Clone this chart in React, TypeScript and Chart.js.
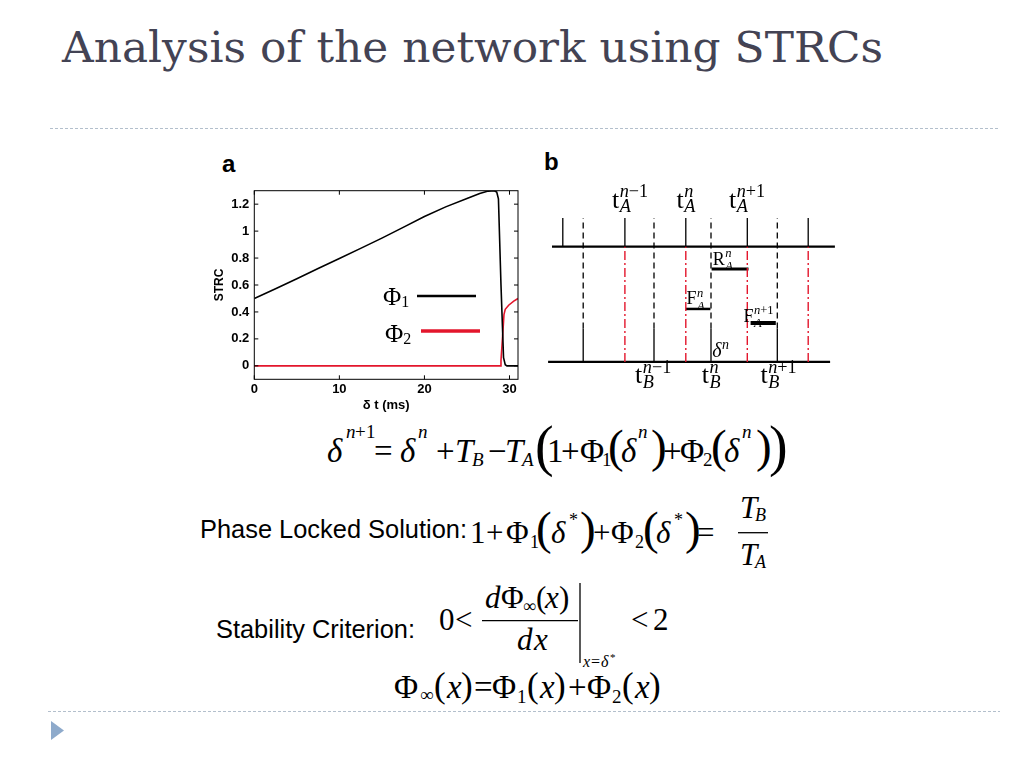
import React, { useEffect, useRef } from "react";
import { Chart, registerables } from "chart.js";

Chart.register(...registerables);

const RED = "#e3162c";
const SANS = '"Liberation Sans", Arial, Helvetica, sans-serif';
const SERIF = '"Liberation Serif", "Times New Roman", "DejaVu Serif", serif';

// ---------- Panel a : STRC curves ----------
const phi1Time = [0, 2.5, 5, 7.5, 10, 12.5, 15, 17.5, 20, 22.5, 25, 26.5, 27.5, 28.2, 28.5, 28.7, 29.0, 29.3, 29.5, 29.7, 30, 31];
const phi1Value = [0.5, 0.572, 0.647, 0.722, 0.797, 0.872, 0.948, 1.028, 1.108, 1.18, 1.242, 1.279, 1.297, 1.3, 1.29, 1.24, 0.6, 0.06, 0.008, 0, 0, 0];
const phi2Time = [0, 28.9, 29.0, 29.2, 29.35, 29.5, 29.9, 30.5, 31];
const phi2Value = [0, 0, 0.04, 0.23, 0.38, 0.42, 0.45, 0.48, 0.5];
const xTicks = [0, 10, 20, 30];
const yTicks = [0, 0.2, 0.4, 0.6, 0.8, 1, 1.2];
const legendNames = ["1", "2"];

// ---------- Panel b : spike-train diagram ----------
const spikeTimesA = [0.76, 2.83, 4.86, 6.91, 8.94];
const spikeTimesB = [1.44, 3.8, 5.7, 7.91];
const trainStart = [0.4, 0.27];
const trainEnd = [9.83, 9.67];
const trainLevel = [1, 0];
const spikeTop = 1.25;
const spikeBTop = 0.29;
const intervalStart = [5.72, 4.86, 7.02];
const intervalEnd = [6.95, 5.68, 7.86];
const intervalLevel = [0.807, 0.46, 0.338];
const intervalWidth = [3, 2.5, 4];

type Lab = { base: string; sub?: string; sup?: string; x: number; y: number; size: number; it?: boolean; subDy: number; supDy: number };
const diagramLabels: Lab[] = [
  { base: "t", sub: "A", sup: "n−1", x: 2.4, y: 1.336, size: 26, subDy: 0.16, supDy: -0.44 },
  { base: "t", sub: "A", sup: "n", x: 4.55, y: 1.336, size: 26, subDy: 0.16, supDy: -0.44 },
  { base: "t", sub: "A", sup: "n+1", x: 6.3, y: 1.336, size: 26, subDy: 0.16, supDy: -0.44 },
  { base: "t", sub: "B", sup: "n−1", x: 3.17, y: -0.18, size: 26, subDy: 0.22, supDy: -0.38 },
  { base: "t", sub: "B", sup: "n", x: 5.39, y: -0.18, size: 26, subDy: 0.22, supDy: -0.38 },
  { base: "t", sub: "B", sup: "n+1", x: 7.35, y: -0.18, size: 26, subDy: 0.22, supDy: -0.38 },
  { base: "δ", sup: "n", x: 5.74, y: 0.043, size: 20, it: true, subDy: 0, supDy: -0.4 },
  { base: "R", sub: "A", sup: "n", x: 5.76, y: 0.845, size: 18, subDy: 0.3, supDy: -0.42 },
  { base: "F", sub: "A", sup: "n", x: 4.88, y: 0.5, size: 18, subDy: 0.3, supDy: -0.42 },
  { base: "F", sub: "A", sup: "n+1", x: 6.78, y: 0.35, size: 18, subDy: 0.3, supDy: -0.42 },
];

function drawRich(ctx: CanvasRenderingContext2D, text: string, x: number, y: number, size: number) {
  let cx = x;
  for (const ch of text) {
    const it = /[A-Za-z]/.test(ch);
    ctx.font = `${it ? "italic " : ""}${size}px ${SERIF}`;
    ctx.fillText(ch, cx, y);
    cx += ctx.measureText(ch).width;
  }
}

const framePlugin = {
  id: "frame",
  afterDatasetsDraw(chart: any) {
    const { ctx, chartArea, scales } = chart;
    const { left, right, top, bottom } = chartArea;
    ctx.save();
    ctx.strokeStyle = "#000";
    ctx.lineWidth = 1;
    ctx.strokeRect(left, top, right - left, bottom - top);
    const tl = 4;
    ctx.beginPath();
    for (const v of xTicks) {
      const p = scales.x.getPixelForValue(v);
      ctx.moveTo(p, bottom); ctx.lineTo(p, bottom - tl);
      ctx.moveTo(p, top); ctx.lineTo(p, top + tl);
    }
    for (const v of yTicks) {
      const p = scales.y.getPixelForValue(v);
      ctx.moveTo(left, p); ctx.lineTo(left + tl, p);
      ctx.moveTo(right, p); ctx.lineTo(right - tl, p);
    }
    ctx.stroke();
    ctx.restore();
  },
};

const phiLegendPlugin = {
  id: "phiLegend",
  afterDraw(chart: any) {
    const ctx = chart.ctx as CanvasRenderingContext2D;
    const rows = [
      { tx: 183, ty: 155, x0: 217, x1: 276, ly: 146, w: 2.5 },
      { tx: 185, ty: 191.5, x0: 221, x1: 280, ly: 181, w: 3.5 },
    ];
    ctx.save();
    ctx.textBaseline = "alphabetic";
    rows.forEach((r, i) => {
      const ds = chart.data.datasets[i];
      ctx.fillStyle = "#000";
      ctx.font = `25px ${SERIF}`;
      ctx.fillText("Φ", r.tx, r.ty);
      const w = ctx.measureText("Φ").width;
      ctx.font = `16px ${SERIF}`;
      ctx.fillText(legendNames[i], r.tx + w, r.ty + 2);
      ctx.strokeStyle = ds.borderColor;
      ctx.lineWidth = r.w;
      ctx.beginPath();
      ctx.moveTo(r.x0, r.ly);
      ctx.lineTo(r.x1, r.ly);
      ctx.stroke();
    });
    ctx.restore();
  },
};

function StrcChart() {
  const ref = useRef<HTMLCanvasElement>(null);
  useEffect(() => {
    Chart.defaults.font.family = SANS;
    const chart = new Chart(ref.current as HTMLCanvasElement, {
      type: "scatter",
      data: {
        datasets: [
          {
            label: "Φ1",
            data: phi1Time.map((x, i) => ({ x, y: phi1Value[i] })),
            showLine: true,
            borderColor: "#000",
            borderWidth: 1.6,
            pointRadius: 0,
            tension: 0,
          },
          {
            label: "Φ2",
            data: phi2Time.map((x, i) => ({ x, y: phi2Value[i] })),
            showLine: true,
            borderColor: RED,
            borderWidth: 1.6,
            pointRadius: 0,
            tension: 0,
          },
        ],
      },
      options: {
        responsive: false,
        animation: false,
        events: [],
        layout: { padding: { top: 40.7, right: 12, left: 0, bottom: 0 } },
        plugins: { legend: { display: false }, tooltip: { enabled: false } },
        scales: {
          x: {
            type: "linear",
            min: 0,
            max: 31,
            grid: { display: false, drawTicks: false },
            border: { display: false },
            afterBuildTicks: (s: any) => { s.ticks = xTicks.map((v) => ({ value: v })); },
            afterFit: (s: any) => { s.height = 40.7; },
            ticks: { font: { size: 13, weight: "bold" }, color: "#000", padding: 2, callback: (v: any) => String(v) },
            title: { display: true, text: "δ t (ms)", font: { size: 13, weight: "bold" }, color: "#000", padding: { top: 0, bottom: 7.2 } },
          },
          y: {
            type: "linear",
            min: -0.1,
            max: 1.3,
            grid: { display: false, drawTicks: false },
            border: { display: false },
            afterBuildTicks: (s: any) => { s.ticks = yTicks.map((v) => ({ value: v })); },
            afterFit: (s: any) => { s.width = 54.3; },
            ticks: { font: { size: 13, weight: "bold" }, color: "#000", padding: 5, callback: (v: any) => String(Math.round(Number(v) * 10) / 10) },
            title: { display: true, text: "STRC", font: { size: 12, weight: "bold" }, color: "#000", padding: { top: 12.8, bottom: 0 } },
          },
        },
      } as any,
      plugins: [framePlugin, phiLegendPlugin],
    });
    return () => chart.destroy();
  }, []);
  return <canvas ref={ref} width={330} height={270} style={{ position: "absolute", left: 200, top: 150 }} />;
}

function segments(pairs: [number, number, number, number][]) {
  const out: any[] = [];
  for (const [x1, y1, x2, y2] of pairs) {
    out.push({ x: x1, y: y1 }, { x: x2, y: y2 }, { x: x2, y: null });
  }
  return out;
}

const diagramLabelPlugin = {
  id: "diagramLabels",
  afterDatasetsDraw(chart: any) {
    const ctx = chart.ctx as CanvasRenderingContext2D;
    const { x: sx, y: sy } = chart.scales;
    ctx.save();
    ctx.fillStyle = "#000";
    ctx.textBaseline = "alphabetic";
    for (const l of diagramLabels) {
      const px = sx.getPixelForValue(l.x);
      const py = sy.getPixelForValue(l.y);
      ctx.font = `${l.it ? "italic " : ""}${l.size}px ${SERIF}`;
      ctx.fillText(l.base, px, py);
      const w = ctx.measureText(l.base).width + 0.5;
      const s = l.size * 0.7;
      if (l.sub) drawRich(ctx, l.sub, px + w, py + l.size * l.subDy, s);
      if (l.sup) drawRich(ctx, l.sup, px + w, py + l.size * l.supDy, s);
    }
    ctx.restore();
  },
};

function DiagramChart() {
  const ref = useRef<HTMLCanvasElement>(null);
  useEffect(() => {
    const common = { showLine: true, pointRadius: 0, tension: 0, borderCapStyle: "butt", spanGaps: false };
    const datasets: any[] = [
      {
        ...common,
        data: segments(spikeTimesA.slice(1).map((t) => [t, 0, t, 1] as [number, number, number, number])),
        borderColor: RED,
        borderWidth: 1.4,
        borderDash: [9, 3, 2, 3],
      },
      {
        ...common,
        data: segments(spikeTimesB.map((t) => [t, spikeBTop, t, spikeTop] as [number, number, number, number])),
        borderColor: "#000",
        borderWidth: 1.3,
        borderDash: [6, 4],
      },
      {
        ...common,
        data: segments(trainLevel.map((lv, i) => [trainStart[i], lv, trainEnd[i], lv] as [number, number, number, number])),
        borderColor: "#000",
        borderWidth: 2.2,
      },
      {
        ...common,
        data: segments(spikeTimesA.map((t) => [t, 1, t, spikeTop] as [number, number, number, number])),
        borderColor: "#000",
        borderWidth: 1.3,
      },
      {
        ...common,
        data: segments(spikeTimesB.map((t) => [t, 0, t, spikeBTop] as [number, number, number, number])),
        borderColor: "#000",
        borderWidth: 1.3,
      },
      ...intervalLevel.map((lv, i) => ({
        ...common,
        data: segments([[intervalStart[i], lv, intervalEnd[i], lv]]),
        borderColor: "#000",
        borderWidth: intervalWidth[i],
      })),
    ];
    const chart = new Chart(ref.current as HTMLCanvasElement, {
      type: "scatter",
      data: { datasets },
      options: {
        responsive: false,
        animation: false,
        events: [],
        layout: { padding: 0 },
        plugins: { legend: { display: false }, tooltip: { enabled: false } },
        scales: {
          x: { type: "linear", display: false, min: 0, max: 10 },
          y: { type: "linear", display: false, min: -0.33, max: 1.839 },
        },
      } as any,
      plugins: [diagramLabelPlugin],
    });
    return () => chart.destroy();
  }, []);
  return <canvas ref={ref} width={300} height={250} style={{ position: "absolute", left: 540, top: 150 }} />;
}

// ---------- Equations (text tokens: text, x, baseline, size, italic) ----------
type Tok = [string, number, number, number, number];
const eq1: Tok[] = [
  ["δ", 327, 462, 33, 1], ["n", 346, 438, 19, 1], ["+", 355, 438, 19, 0], ["1", 366, 438, 19, 0],
  ["=", 374, 462, 33, 0],
  ["δ", 400, 462, 33, 1], ["n", 418, 438, 19, 1],
  ["+", 436, 462, 33, 0],
  ["T", 455, 462, 33, 1], ["B", 472, 466, 19, 1],
  ["−", 488, 462, 33, 0],
  ["T", 505, 462, 33, 1], ["A", 522, 466, 19, 1],
  ["(", 535, 465, 56, 0],
  ["1", 547, 462, 33, 0],
  ["+", 561, 462, 33, 0],
  ["Φ", 580, 462, 33, 0], ["1", 602, 466, 19, 0],
  ["(", 608, 462, 47, 0],
  ["δ", 621, 462, 33, 1], ["n", 638, 438, 19, 1],
  [")", 651, 462, 47, 0],
  ["+", 663, 462, 33, 0],
  ["Φ", 680, 462, 33, 0], ["2", 703, 466, 19, 0],
  ["(", 711, 462, 47, 0],
  ["δ", 724, 462, 33, 1], ["n", 742, 438, 19, 1],
  [")", 756, 462, 47, 0],
  [")", 769, 465, 56, 0],
];
const eq2: Tok[] = [
  ["1", 470, 543, 31, 0],
  ["+", 486, 543, 31, 0],
  ["Φ", 506, 543, 31, 0], ["1", 530, 548, 18, 0],
  ["(", 536, 544, 47, 0],
  ["δ", 551, 543, 31, 1], ["*", 569, 526, 18, 0],
  [")", 580, 544, 47, 0],
  ["+", 593, 543, 31, 0],
  ["Φ", 611, 543, 31, 0], ["2", 635, 548, 18, 0],
  ["(", 643, 544, 47, 0],
  ["δ", 656, 543, 31, 1], ["*", 674, 526, 18, 0],
  [")", 685, 544, 47, 0],
  ["=", 697, 543, 31, 0],
  ["T", 740, 518, 31, 1], ["B", 755, 521, 18, 1],
  ["T", 740, 565, 31, 1], ["A", 755, 568, 18, 1],
];
const eq3: Tok[] = [
  ["0", 439, 630, 31, 0], ["<", 455, 630, 31, 0],
  ["d", 485, 608, 31, 1], ["Φ", 501, 608, 31, 0], ["∞", 523, 612, 18, 0], ["(", 536, 608, 31, 0], ["x", 545, 608, 31, 1], [")", 559, 608, 31, 0],
  ["d", 517, 650, 31, 1], ["x", 534, 650, 31, 1],
  ["x", 583, 667, 16, 1], ["=", 591, 667, 16, 0], ["δ", 601, 667, 16, 1], ["*", 610, 661, 11, 0],
  ["<", 631, 630, 31, 0], ["2", 653, 630, 31, 0],
];
const eq4: Tok[] = [
  ["Φ", 394, 698, 33, 0], ["∞", 420, 701, 19, 0], ["(", 434, 697, 35, 0], ["x", 447, 698, 33, 1], [")", 461, 697, 35, 0],
  ["=", 474, 698, 33, 0],
  ["Φ", 492, 698, 33, 0], ["1", 517, 703, 19, 0], ["(", 527, 697, 35, 0], ["x", 540, 698, 33, 1], [")", 554, 697, 35, 0],
  ["+", 568, 698, 33, 0],
  ["Φ", 587, 698, 33, 0], ["2", 612, 703, 19, 0], ["(", 622, 697, 35, 0], ["x", 635, 698, 33, 1], [")", 649, 697, 35, 0],
];

function Tokens({ toks }: { toks: Tok[] }) {
  return (
    <>
      {toks.map((t, i) => (
        <text key={i} x={t[1]} y={t[2]} fontSize={t[3]} fontStyle={t[4] ? "italic" : "normal"} fontFamily={SERIF} fill="#000">
          {t[0]}
        </text>
      ))}
    </>
  );
}

export default function App() {
  return (
    <div style={{ position: "fixed", left: 0, top: 0, width: 1024, height: 768, background: "#fff", overflow: "hidden" }}>
      <svg width={1024} height={768} style={{ position: "absolute", left: 0, top: 0 }}>
        <text x={62} y={62} fontFamily='"DejaVu Serif", "Liberation Serif", serif' fontSize={42} fill="#434354" textLength={821} lengthAdjust="spacingAndGlyphs">
          Analysis of the network using STRCs
        </text>
        <line x1={50} y1={128.5} x2={1000} y2={128.5} stroke="#b3bfcc" strokeWidth={1} strokeDasharray="3 2" />
        <line x1={48} y1={711.5} x2={1000} y2={711.5} stroke="#b3bfcc" strokeWidth={1} strokeDasharray="3 2" />
        <polygon points="51,721 64,730.5 51,740" fill="#8eaacb" />
        <text x={222} y={172} fontFamily={SANS} fontWeight="bold" fontSize={24} fill="#000">a</text>
        <text x={544} y={170} fontFamily={SANS} fontWeight="bold" fontSize={24} fill="#000">b</text>
        <text x={200} y={538} fontFamily={SANS} fontSize={26} fill="#000" textLength={267} lengthAdjust="spacingAndGlyphs">Phase Locked Solution:</text>
        <text x={216} y={638} fontFamily={SANS} fontSize={26} fill="#000" textLength={199} lengthAdjust="spacingAndGlyphs">Stability Criterion:</text>
        <Tokens toks={eq1} />
        <Tokens toks={eq2} />
        <line x1={738} y1={532.7} x2={768} y2={532.7} stroke="#000" strokeWidth={1.3} />
        <Tokens toks={eq3} />
        <line x1={482} y1={620.7} x2={578} y2={620.7} stroke="#000" strokeWidth={1.3} />
        <line x1={580} y1={583} x2={580} y2={663} stroke="#000" strokeWidth={1.3} />
        <Tokens toks={eq4} />
      </svg>
      <StrcChart />
      <DiagramChart />
    </div>
  );
}
